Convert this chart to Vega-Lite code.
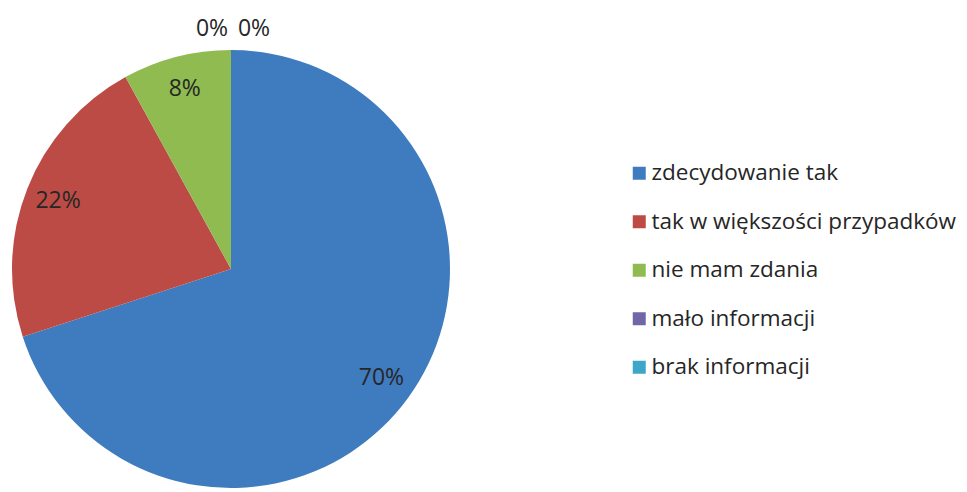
{
  "$schema": "https://vega.github.io/schema/vega-lite/v6.json",
  "width": 438,
  "height": 438,
  "autosize": {"type": "none"},
  "padding": {"left": 12, "top": 50, "right": 517, "bottom": 4},
  "background": "white",
  "data": {
    "values": [
      {"category": "zdecydowanie tak", "value": 0.70, "ord": 1},
      {"category": "tak w większości przypadków", "value": 0.22, "ord": 2},
      {"category": "nie mam zdania", "value": 0.08, "ord": 3},
      {"category": "mało informacji", "value": 0.0, "ord": 4},
      {"category": "brak informacji", "value": 0.0, "ord": 5}
    ]
  },
  "encoding": {
    "theta": {"field": "value", "type": "quantitative", "stack": true},
    "order": {"field": "ord", "type": "quantitative"}
  },
  "layer": [
    {
      "mark": {"type": "arc", "outerRadius": 219},
      "encoding": {
        "color": {
          "field": "category",
          "type": "nominal",
          "scale": {
            "domain": ["zdecydowanie tak", "tak w większości przypadków", "nie mam zdania", "mało informacji", "brak informacji"],
            "range": ["#3f7cbf", "#bc4b45", "#8fbb50", "#7166a6", "#3ea7c9"]
          },
          "legend": {
            "orient": "none",
            "legendX": 616,
            "legendY": 112,
            "title": null,
            "padding": 0,
            "symbolType": "square",
            "symbolSize": 169,
            "symbolStrokeWidth": 0,
            "labelFont": "Open Sans",
            "labelFontSize": 22.5,
            "labelColor": "#262626",
            "labelOffset": 1,
            "labelLimit": 0,
            "rowPadding": 25.5
          }
        }
      }
    },
    {
      "mark": {"type": "text", "radius": 186, "fontSize": 23, "font": "Open Sans", "color": "#262626"},
      "encoding": {
        "text": {"condition": {"test": "datum.value > 0", "field": "value", "type": "quantitative", "format": ".0%"}, "value": ""}
      }
    },
    {
      "mark": {"type": "text", "radius": 240, "dx": -19, "fontSize": 23, "font": "Open Sans", "color": "#262626"},
      "encoding": {
        "text": {"condition": {"test": "datum.category === 'mało informacji'", "field": "value", "type": "quantitative", "format": ".0%"}, "value": ""}
      }
    },
    {
      "mark": {"type": "text", "radius": 240, "dx": 23, "fontSize": 23, "font": "Open Sans", "color": "#262626"},
      "encoding": {
        "text": {"condition": {"test": "datum.category === 'brak informacji'", "field": "value", "type": "quantitative", "format": ".0%"}, "value": ""}
      }
    }
  ],
  "config": {"view": {"stroke": null}}
}
